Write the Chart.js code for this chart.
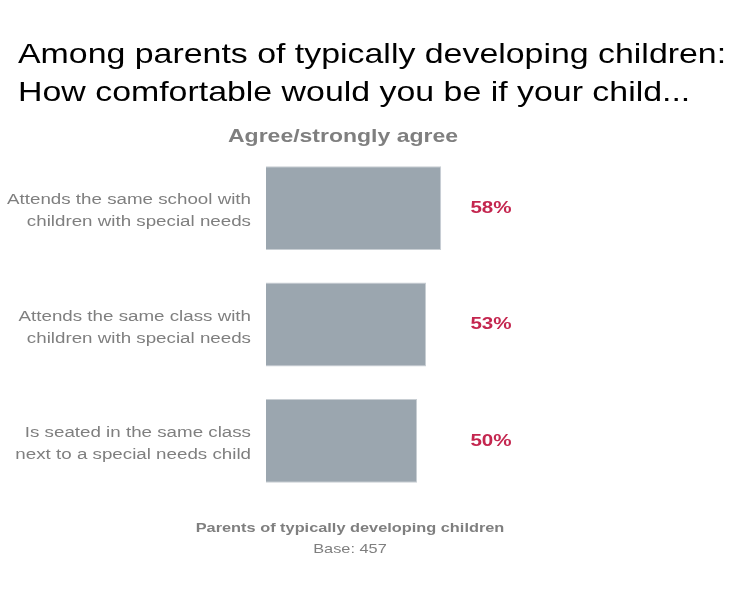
<!DOCTYPE html>
<html><head><meta charset="utf-8">
<script src="https://cdn.jsdelivr.net/npm/chart.js@4"></script>
<style>html,body{margin:0;padding:0;background:#fff;}#wrap{position:relative;width:747px;height:598px;}</style>
</head><body>
<div id="wrap"><canvas id="c" width="747" height="598"></canvas></div>
<script>
const categories = [
  ["Attends the same school with", "children with special needs"],
  ["Attends the same class with", "children with special needs"],
  ["Is seated in the same class", "next to a special needs child"]
];
const values = [58, 53, 50];
const titleLines = ["Among parents of typically developing children:", "How comfortable would you be if your child..."];
const seriesLabel = "Agree/strongly agree";
const footerLines = ["Parents of typically developing children", "Base: 457"];

const FONT = "'Liberation Sans', Arial, sans-serif";
const GRAY = "#7f7f7f";
const SX = 1.21;

function stretchText(ctx, text, x, y, align) {
  ctx.save();
  ctx.translate(x, y);
  ctx.scale(SX, 1);
  ctx.textAlign = align;
  ctx.fillText(text, 0, 0);
  ctx.restore();
}

const textPlugin = {
  id: 'texts',
  afterDraw(chart) {
    const ctx = chart.ctx;
    const x = chart.scales.x, y = chart.scales.y;
    ctx.save();
    ctx.textBaseline = 'alphabetic';
    ctx.fillStyle = '#000';
    ctx.font = "28px " + FONT;
    stretchText(ctx, titleLines[0], 18, 63, 'left');
    stretchText(ctx, titleLines[1], 18, 101, 'left');
    ctx.fillStyle = GRAY;
    ctx.font = "bold 19px " + FONT;
    stretchText(ctx, seriesLabel, 343, 142, 'center');
    ctx.font = "bold 13.5px " + FONT;
    stretchText(ctx, footerLines[0], 350, 532, 'center');
    ctx.font = "13.5px " + FONT;
    stretchText(ctx, footerLines[1], 350, 553, 'center');
    // category labels
    ctx.textBaseline = 'middle';
    ctx.font = "15.5px " + FONT;
    ctx.fillStyle = GRAY;
    categories.forEach((lines, i) => {
      const cy = y.getPixelForValue(i) + 3;
      const lh = 22;
      lines.forEach((t, j) => {
        stretchText(ctx, t, y.right - 15, cy + (j - (lines.length - 1) / 2) * lh, 'right');
      });
    });
    // value labels
    ctx.fillStyle = '#C4264F';
    ctx.font = "bold 17px " + FONT;
    values.forEach((v, i) => {
      stretchText(ctx, v + '%', x.getPixelForValue(74.5), y.getPixelForValue(i), 'center');
    });
    ctx.restore();
  }
};

new Chart(document.getElementById('c'), {
  type: 'bar',
  data: {
    labels: categories,
    datasets: [{
      label: seriesLabel,
      data: values,
      backgroundColor: '#9BA6AF',
      borderColor: '#C8CED3',
      borderWidth: 1,
      categoryPercentage: 0.72,
      barPercentage: 1.0
    }]
  },
  options: {
    indexAxis: 'y',
    responsive: false,
    animation: false,
    devicePixelRatio: 1,
    layout: { padding: { top: 150, bottom: 99, left: 0, right: 179 } },
    plugins: { legend: { display: false }, tooltip: { enabled: false } },
    scales: {
      x: { display: false, min: 0, max: 100 },
      y: {
        grid: { display: false, drawTicks: false },
        border: { display: false },
        afterFit(scale) { scale.width = 266; },
        ticks: { display: false }
      }
    }
  },
  plugins: [textPlugin]
});
</script>
</body></html>
